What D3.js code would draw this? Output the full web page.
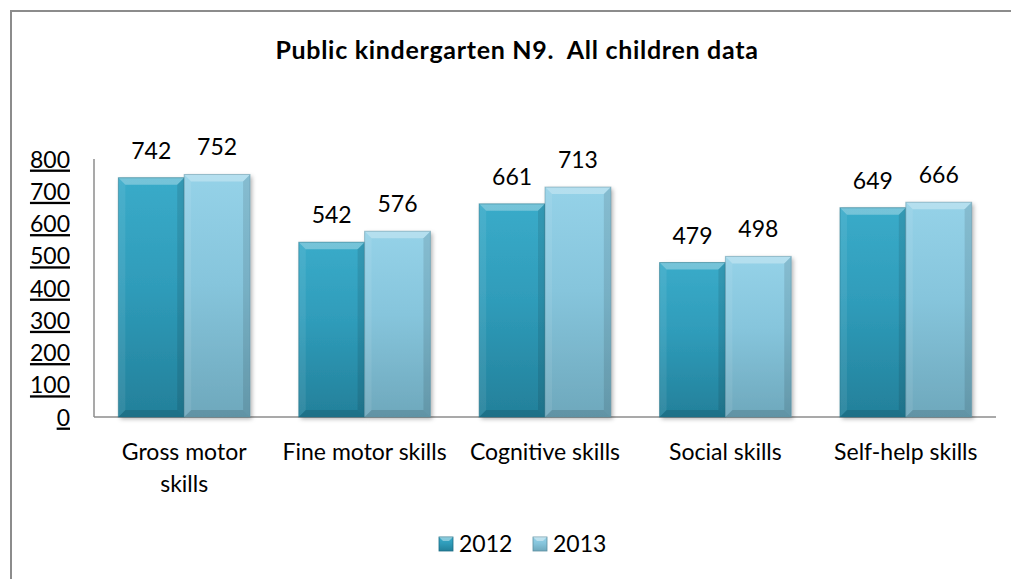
<!DOCTYPE html>
<html>
<head>
<meta charset="utf-8">
<script src="https://cdn.jsdelivr.net/npm/d3@7"></script>
<style>
  html, body { margin: 0; padding: 0; background: #fff; }
  svg { display: block; }
  text { font-family: Lato, "Open Sans", sans-serif; fill: #000; white-space: pre; }
</style>
</head>
<body>
<svg id="chart" width="1011" height="579"></svg>
<script>
const title = "Public kindergarten N9.  All children data";
const categories = [["Gross motor", "skills"], ["Fine motor skills"], ["Cognitive skills"], ["Social skills"], ["Self-help skills"]];
const seriesNames = ["2012", "2013"];
const values2012 = [742, 542, 661, 479, 649];
const values2013 = [752, 576, 713, 498, 666];
const yTicks = [0, 100, 200, 300, 400, 500, 600, 700, 800];

const W = 1011, H = 579;
const svg = d3.select("#chart");
const defs = svg.append("defs");

const palettes = [
  { top: "#3aabc9", mid: "#2f9cba", bot: "#23809a", stroke: "#1d6d84" },
  { top: "#95d2e8", mid: "#86c5dc", bot: "#6ea8bc", stroke: "#5c8fa1" }
];
palettes.forEach((p, i) => {
  const g = defs.append("linearGradient").attr("id", "grad" + i)
    .attr("x1", 0).attr("y1", 0).attr("x2", 0).attr("y2", 1);
  g.append("stop").attr("offset", "0%").attr("stop-color", p.top);
  g.append("stop").attr("offset", "45%").attr("stop-color", p.mid);
  g.append("stop").attr("offset", "100%").attr("stop-color", p.bot);
});
const f = defs.append("filter").attr("id", "shadow").attr("x", "-10%").attr("y", "-10%").attr("width", "130%").attr("height", "130%");
f.append("feDropShadow").attr("dx", 2).attr("dy", 2).attr("stdDeviation", 2).attr("flood-color", "#000").attr("flood-opacity", 0.3);

// outer border
svg.append("rect").attr("x", 11).attr("y", 11).attr("width", W).attr("height", H)
  .attr("fill", "none").attr("stroke", "#8c8c8c").attr("stroke-width", 2);

const plot = { left: 94, right: 996, top: 159, bottom: 417 };
const x0 = d3.scaleBand().domain(d3.range(categories.length))
  .range([plot.left, plot.right]).paddingInner(0.27).paddingOuter(0.135);
const x1 = d3.scaleBand().domain(seriesNames).range([0, x0.bandwidth()]);
const y = d3.scaleLinear().domain([0, 800]).range([plot.bottom, plot.top]);

// title
svg.append("text").attr("x", 517).attr("y", 59).attr("text-anchor", "middle")
  .style("font-size", "25px").style("font-weight", "bold").style("letter-spacing", "0.7px").text(title);

// y axis labels (underlined)
const yAxis = d3.axisLeft(y).tickValues(yTicks).tickSize(0).tickPadding(0).tickFormat(d3.format("d"));
const yg = svg.append("g").attr("transform", `translate(${70},0)`).call(yAxis);
yg.select(".domain").remove();
yg.selectAll("text").style("font-size", "23px").style("font-family", "Lato, sans-serif")
  .style("text-decoration", "underline").attr("fill", "#000").attr("dy", "0.35em");

// axis lines
svg.append("line").attr("x1", plot.left).attr("x2", plot.left).attr("y1", y(800)).attr("y2", y(0))
  .attr("stroke", "#8c8c8c").attr("stroke-width", 1.5);
svg.append("line").attr("x1", plot.left).attr("x2", plot.right).attr("y1", y(0)).attr("y2", y(0))
  .attr("stroke", "#8c8c8c").attr("stroke-width", 1.5);

const data = categories.map((c, i) => ({ i, vals: [values2012[i], values2013[i]] }));

function bevelBar(g, bx, by, bw, bh, si) {
  const p = palettes[si];
  g.append("rect").attr("x", bx).attr("y", by).attr("width", bw).attr("height", bh)
    .attr("fill", "url(#grad" + si + ")").attr("filter", "url(#shadow)");
  const b = Math.min(7, bh / 2);
  const x2 = bx + bw, y2 = by + bh;
  g.append("path").attr("d", `M${bx},${by}L${x2},${by}L${x2 - b},${by + b}L${bx + b},${by + b}Z`)
    .attr("fill", "#fff").attr("fill-opacity", 0.3);
  g.append("path").attr("d", `M${bx},${by}L${bx + b},${by + b}L${bx + b},${y2 - b}L${bx},${y2}Z`)
    .attr("fill", "#fff").attr("fill-opacity", 0.08);
  g.append("path").attr("d", `M${x2},${by}L${x2},${y2}L${x2 - b},${y2 - b}L${x2 - b},${by + b}Z`)
    .attr("fill", "#000").attr("fill-opacity", 0.1);
  g.append("path").attr("d", `M${bx},${y2}L${x2},${y2}L${x2 - b},${y2 - b}L${bx + b},${y2 - b}Z`)
    .attr("fill", "#000").attr("fill-opacity", 0.12);
  g.append("rect").attr("x", bx).attr("y", by).attr("width", bw).attr("height", bh)
    .attr("fill", "none").attr("stroke", p.stroke).attr("stroke-opacity", 0.5).attr("stroke-width", 1);
}

const groups = svg.selectAll(".cat").data(data).join("g").attr("class", "cat");
groups.each(function(d) {
  const g = d3.select(this);
  d.vals.forEach((v, si) => {
    const bx = x0(d.i) + x1(seriesNames[si]);
    const bw = x1.bandwidth();
    bevelBar(g, bx, y(v), bw, y(0) - y(v), si);
    g.append("text").attr("x", bx + bw / 2).attr("y", y(v) - 19).attr("text-anchor", "middle")
      .style("font-size", "23px").text(v);
  });
  const cx = x0(d.i) + x0.bandwidth() / 2;
  categories[d.i].forEach((line, li) => {
    g.append("text").attr("x", cx).attr("y", 460 + li * 32).attr("text-anchor", "middle")
      .style("font-size", "23px").text(line);
  });
});

// legend
const legendX = [439, 533];
seriesNames.forEach((s, si) => {
  const lg = svg.append("g");
  lg.append("rect").attr("x", legendX[si]).attr("y", 537).attr("width", 14).attr("height", 14)
    .attr("fill", "url(#grad" + si + ")").attr("stroke", palettes[si].stroke).attr("stroke-width", 0.8);
  lg.append("path").attr("d", `M${legendX[si]},537L${legendX[si] + 14},537L${legendX[si] + 10},541L${legendX[si] + 4},541Z`)
    .attr("fill", "#fff").attr("fill-opacity", 0.4);
  lg.append("text").attr("x", legendX[si] + 20).attr("y", 552).style("font-size", "23px").text(s);
});
</script>
</body>
</html>
